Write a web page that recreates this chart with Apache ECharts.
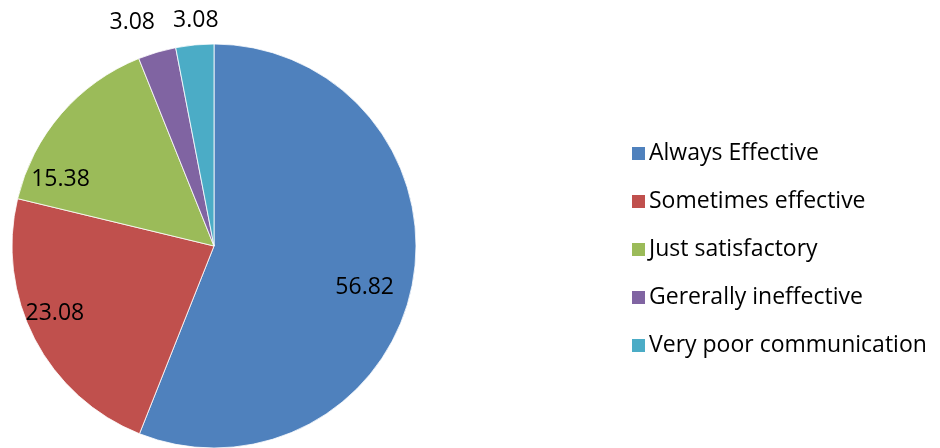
<!DOCTYPE html>
<html><head><meta charset="utf-8">
<script src="https://cdn.jsdelivr.net/npm/echarts@6/dist/echarts.min.js"></script>
<style>html,body{margin:0;padding:0;background:#fff}#c{width:940px;height:448px}</style>
</head><body><div id="c"></div>
<script>
const categories = ['Always Effective','Sometimes effective','Just satisfactory','Gererally ineffective','Very poor communication'];
const values = [56.82, 23.08, 15.38, 3.08, 3.08];
const colors = ['#4F81BD','#C0504D','#9BBB59','#8064A2','#4BACC6'];
const insideLabel = [true, true, true, false, false];
// small label nudges to mimic Excel best-fit placement
const labelDx = [-11, -13, -29, -16, 4];
const labelDy = [11, -8, 41, 0, 6];

const FONT = 'Open Sans';
const CX = 214, CY = 246, R = 202;
const chart = echarts.init(document.getElementById('c'), null, {renderer:'canvas'});
const base = categories.map((n,i)=>({name:n, value:values[i]}));
const lbl = {formatter:p=>values[p.dataIndex].toFixed(2), fontFamily:FONT, fontSize:23, color:'#000'};
const nudge = p => ({dx:labelDx[p.dataIndex], dy:labelDy[p.dataIndex], hideOverlap:false});
chart.setOption({
  animation:false,
  legend:{
    orient:'vertical', left:625, top:137, itemWidth:15, itemHeight:15, itemGap:25,
    icon:'rect', data:categories,
    textStyle:{fontFamily:FONT, fontSize:23, color:'#000', padding:[0,0,0,-2]}
  },
  series:[
    {type:'pie', center:[CX,CY], radius:[0,R], startAngle:90, clockwise:true,
     data: base.map((d,i)=>({...d, itemStyle:{color:colors[i]}})),
     itemStyle:{borderColor:'#fff', borderWidth:0.8},
     label:{show:false}, labelLine:{show:false}, silent:true},
    {type:'pie', center:[CX,CY], radius:[R*0.6,R], startAngle:90, clockwise:true,
     data: base.map((d,i)=>({...d, itemStyle:{color:'transparent'}, label:{show:insideLabel[i]}})),
     label:{position:'inside', ...lbl}, labelLayout:nudge,
     labelLine:{show:false}, silent:true, legendHoverLink:false},
    {type:'pie', center:[CX,CY], radius:[R,R+56], startAngle:90, clockwise:true,
     data: base.map((d,i)=>({...d, itemStyle:{color:'transparent'}, label:{show:!insideLabel[i]}})),
     label:{position:'inside', ...lbl}, labelLayout:nudge,
     labelLine:{show:false}, silent:true, legendHoverLink:false}
  ]
});
</script></body></html>
